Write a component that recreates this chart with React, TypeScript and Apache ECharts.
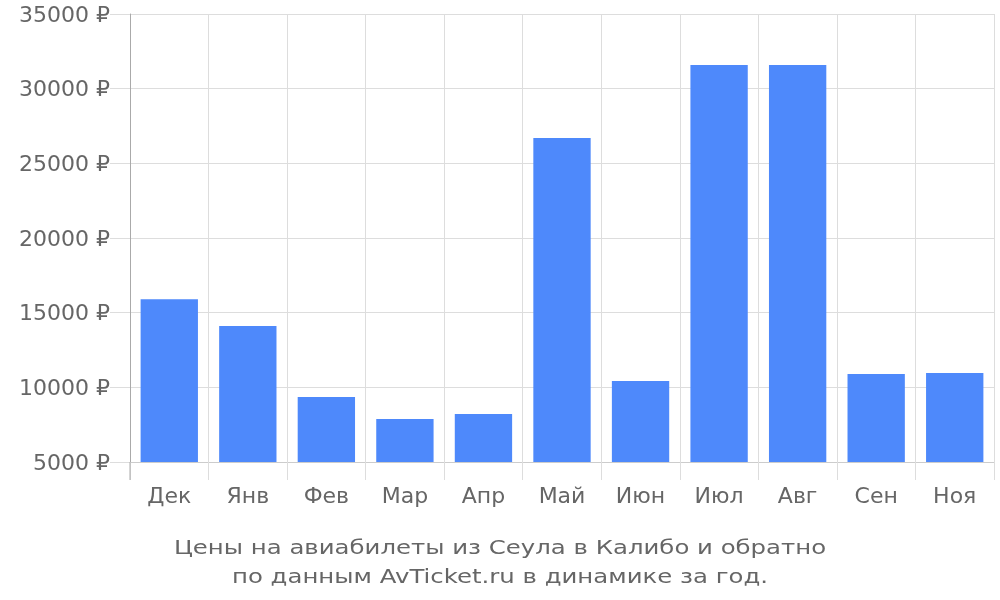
import React, { useEffect, useRef } from "react";
import * as echarts from "echarts";

const categories = ["Дек", "Янв", "Фев", "Мар", "Апр", "Май", "Июн", "Июл", "Авг", "Сен", "Ноя"];
const prices = [15900, 14100, 9350, 7880, 8210, 26700, 10420, 31590, 31590, 10890, 10960];
const titleLines = [
  "Цены на авиабилеты из Сеула в Калибо и обратно",
  "по данным AvTicket.ru в динамике за год.",
];

export default function App() {
  const ref = useRef<HTMLDivElement>(null);
  useEffect(() => {
    if (!ref.current) return;
    const chart = echarts.init(ref.current, undefined, { renderer: "svg" });
    const font = "DejaVu Sans";
    chart.setOption({
      animation: false,
      textStyle: { fontFamily: font },
      grid: { left: 130, right: 6, top: 14, bottom: 138, containLabel: false },
      xAxis: {
        type: "category",
        data: categories,
        axisLine: { show: true, lineStyle: { color: "#ccc", width: 1 } },
        axisTick: { show: true, length: 18, lineStyle: { color: "#ddd" } },
        splitLine: { show: true, lineStyle: { color: "#ddd" } },
        axisLabel: { color: "#666", fontSize: 22, margin: 22, fontFamily: font },
      },
      yAxis: {
        type: "value",
        min: 5000,
        max: 35000,
        interval: 5000,
        axisLine: { show: true, lineStyle: { color: "#aaa" } },
        axisTick: { show: true, length: 20, lineStyle: { color: "#ddd" } },
        splitLine: { show: true, lineStyle: { color: "#ddd" } },
        axisLabel: {
          color: "#666",
          fontSize: 22,
          margin: 20,
          fontFamily: font,
          formatter: (v: number) => String(v) + " ₽",
        },
      },
      graphic: [
        { type: "line", shape: { x1: 130, y1: 462, x2: 130, y2: 480 }, style: { stroke: "#aaa", lineWidth: 1 }, z: 10 },
        {
          type: "text",
          x: 500,
          y: 532,
          scaleX: 1.22,
          style: {
            text: titleLines.join("\n"),
            textAlign: "center",
            textVerticalAlign: "top",
            fontSize: 20,
            lineHeight: 29,
            fontFamily: font,
            fill: "#666",
          },
        },
      ],
      series: [
        {
          type: "bar",
          data: prices,
          barCategoryGap: "27%",
          itemStyle: { color: "#4e89fb" },
        },
      ],
    });
    return () => chart.dispose();
  }, []);
  return <div ref={ref} style={{ position: "fixed", left: 0, top: 0, width: 1000, height: 600 }} />;
}
